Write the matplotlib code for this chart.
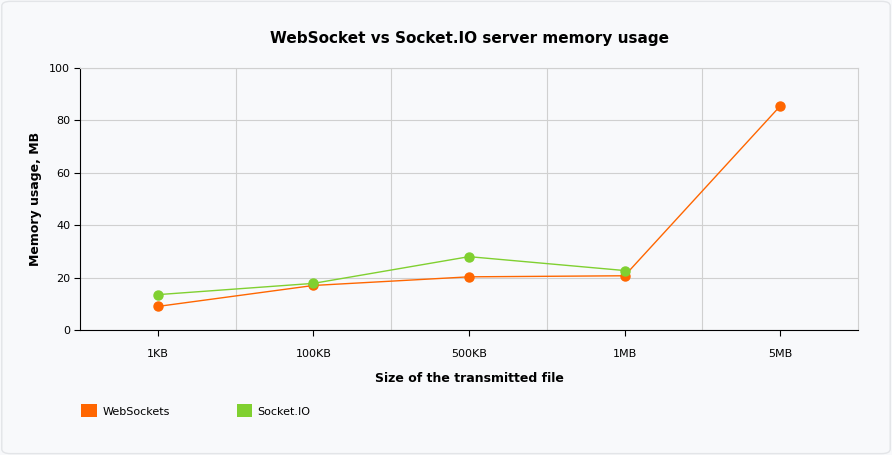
import matplotlib.pyplot as plt
from matplotlib.patches import Patch, FancyBboxPatch

# ================== data ==================
sizes = ["1KB", "100KB", "500KB", "1MB", "5MB"]
websockets = [9, 17, 20.3, 20.7, 85.5]
socketio = [13.5, 17.8, 28, 22.7]

orange = "#ff6600"
green = "#80d030"
bg = "#f8f9fb"

fig = plt.figure(figsize=(8.92, 4.55), dpi=100, facecolor=bg)
frame = FancyBboxPatch((0.002, 0.003), 0.996, 0.994, boxstyle="round,pad=0,rounding_size=0.01",
                       transform=fig.transFigure, facecolor=bg, edgecolor="#e3e5e8", lw=1, zorder=-10)
fig.patches.append(frame)
ax = fig.add_axes([0.0897, 0.2747, 0.8722, 0.5758])
ax.set_facecolor(bg)

x_ws = list(range(len(websockets)))
x_sio = list(range(len(socketio)))
ax.plot(x_ws, websockets, color=orange, lw=1, marker="o", ms=6.5, zorder=3)
ax.plot(x_sio, socketio, color=green, lw=1, marker="o", ms=6.5, zorder=4)

ax.set_xlim(-0.5, len(sizes) - 0.5)
ax.set_ylim(0, 100)
ax.set_xticks(range(len(sizes)))
ax.set_xticklabels(sizes)
ax.set_yticks(range(0, 101, 20))
ax.set_xticks([i + 0.5 for i in range(len(sizes) - 1)], minor=True)

ax.grid(False)
ax.yaxis.grid(True, color="#d0d0d0", lw=0.8)
ax.xaxis.grid(True, which="minor", color="#d0d0d0", lw=0.8)
ax.tick_params(which="minor", length=0)
ax.tick_params(axis="both", which="major", labelsize=8, length=4, color="black", pad=10)
ax.tick_params(axis="y", pad=3)

for s in ["top", "right"]:
    ax.spines[s].set_color("#d0d0d0")
    ax.spines[s].set_linewidth(0.8)
ax.spines["left"].set_color("black")
ax.spines["bottom"].set_color("black")

ax.set_xlabel("Size of the transmitted file", fontsize=9, fontweight="bold", labelpad=9)
ax.set_ylabel("Memory usage, MB", fontsize=9, fontweight="bold", labelpad=5)
fig.suptitle("WebSocket vs Socket.IO server memory usage", fontsize=11, fontweight="bold",
             x=0.526, y=0.932)

handles = [Patch(facecolor=orange, label="WebSockets"), Patch(facecolor=green, label="Socket.IO")]
fig.legend(handles=handles, loc="center left", bbox_to_anchor=(0.08, 0.097), ncol=2, frameon=False,
           fontsize=8, handlelength=1.4, handleheight=1.4, handletextpad=0.5, columnspacing=6.0)

plt.savefig("out.png", dpi=100, facecolor=bg)
